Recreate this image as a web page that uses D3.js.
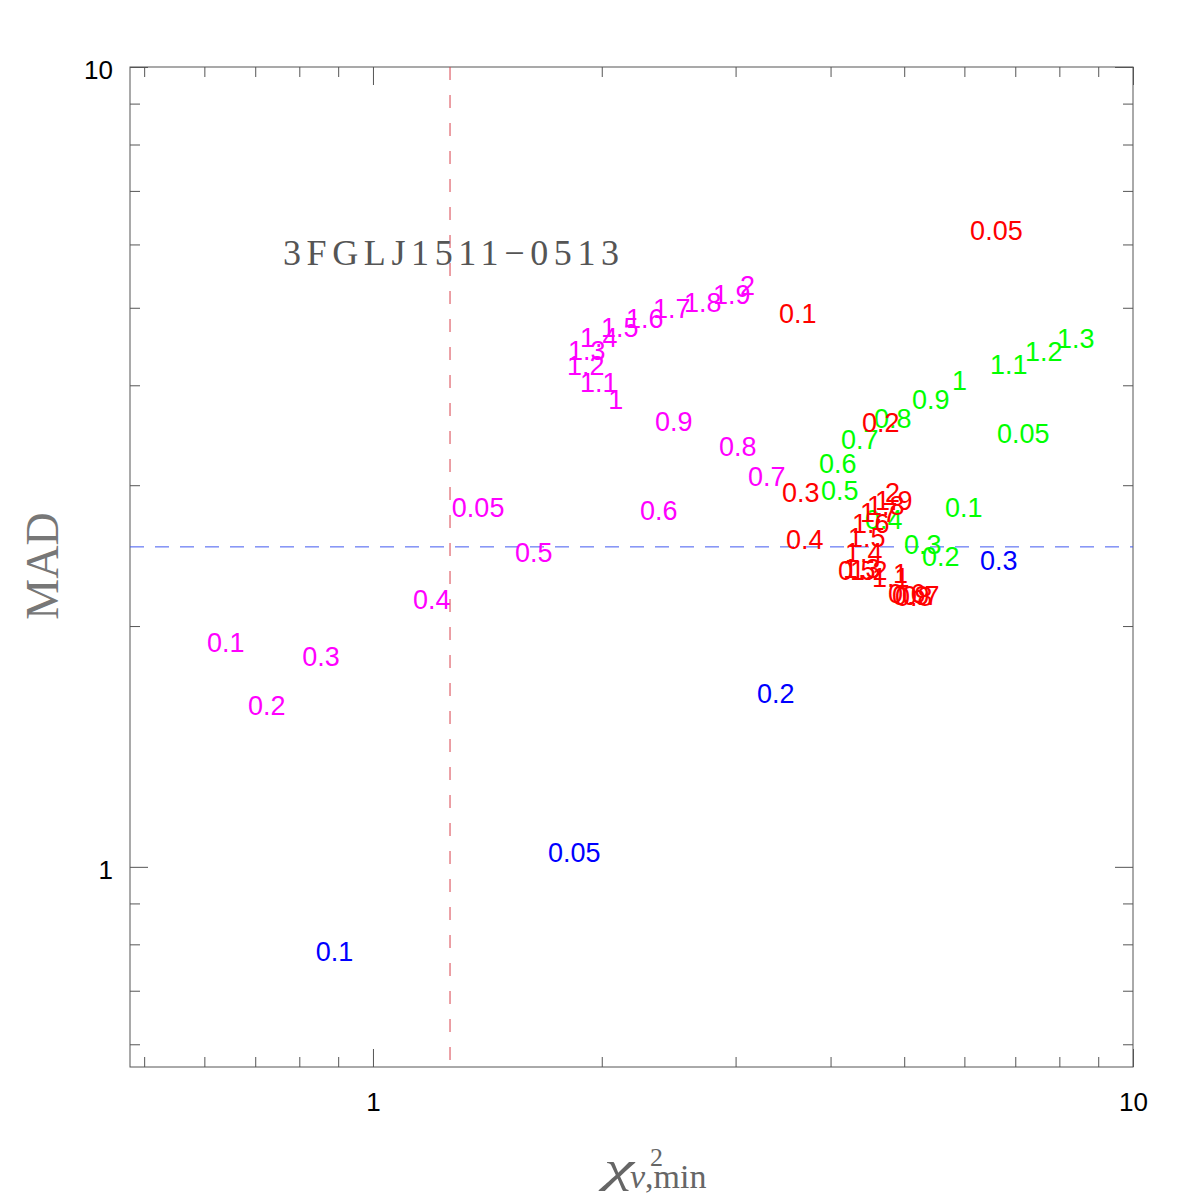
<!DOCTYPE html>
<html>
<head>
<meta charset="utf-8">
<script src="https://cdn.jsdelivr.net/npm/d3@7"></script>
<style>
  body { margin: 0; background: #fff; }
  .lbl { font-family: "Liberation Sans", Arial, sans-serif; font-size: 27px; }
</style>
</head>
<body>
<div id="chart-area"></div>
<script>
/*
*    chi2 vs MAD scan
*/

// magenta series
var magentaLabels = ["0.05","0.1","0.2","0.3","0.4","0.5","0.6","0.7","0.8","0.9","1","1.1","1.2","1.3","1.4","1.5","1.6","1.7","1.8","1.9","2"];
var magentaChi = [1.270,0.605,0.685,0.807,1.129,1.538,2.245,3.114,2.853,2.350,2.039,1.873,1.800,1.806,1.873,1.995,2.152,2.336,2.566,2.802,3.040];
var magentaMad = [2.738,1.857,1.549,1.784,2.101,2.406,2.715,2.994,3.265,3.508,3.737,3.925,4.121,4.303,4.467,4.597,4.718,4.856,4.941,5.056,5.188];

// red series
var redLabels = ["0.05","0.1","0.2","0.3","0.4","0.5","0.6","0.7","0.8","0.9","1","1.1","1.2","1.3","1.4","1.5","1.6","1.7","1.8","1.9","2"];
var redChi = [6.105,3.421,4.400,3.452,3.494,4.091,4.760,4.968,4.863,4.819,4.834,4.535,4.243,4.154,4.180,4.217,4.268,4.373,4.467,4.577,4.717];
var redMad = [6.077,4.786,3.498,2.859,2.498,2.285,2.138,2.126,2.120,2.126,2.265,2.239,2.285,2.298,2.406,2.512,2.615,2.699,2.754,2.794,2.859];

// green series
var greenLabels = ["0.05","0.1","0.2","0.3","0.4","0.5","0.6","0.7","0.8","0.9","1","1.1","1.2","1.3"];
var greenChi = [6.623,5.656,5.277,4.997,4.440,3.886,3.862,4.128,4.562,5.120,5.778,6.483,7.210,7.943];
var greenMad = [3.388,2.738,2.378,2.462,2.646,2.876,3.108,3.331,3.538,3.737,3.948,4.133,4.290,4.455];

// blue series
var blueLabels = ["0.05","0.1","0.2","0.3"];
var blueChi = [1.699,0.841,3.201,6.290];
var blueMad = [1.015,0.763,1.603,2.350];

var xMajor = [1, 10];
var xMinor = [0.5,0.6,0.7,0.8,0.9,2,3,4,5,6,7,8,9];
var yMajor = [1, 10];
var yMinor = [0.6,0.7,0.8,0.9,2,3,4,5,6,7,8,9];

var chiCut = 1.263;
var madCut = 2.512;

var margin = {top: 67, right: 63, bottom: 129, left: 130};
var width = 1003;
var height = 1000;

var svg = d3.select("#chart-area")
    .append("svg")
    .attr("width", width + margin.left + margin.right)
    .attr("height", height + margin.top + margin.bottom);

var g = svg.append("g")
    .attr("transform", "translate(" + margin.left + ", " + margin.top + ")");

var x = d3.scaleLog().domain([0.479, 10]).range([0, width]);
var y = d3.scaleLog().domain([0.562, 10]).range([height, 0]);

// frame
g.append("rect")
    .attr("width", width).attr("height", height)
    .attr("fill", "none").attr("stroke", "#555").attr("stroke-width", 1);

function styleAxis(sel) {
    sel.select(".domain").remove();
    sel.selectAll("line").attr("stroke", "#555");
    sel.selectAll("text")
        .attr("fill", "#000")
        .attr("font-family", "'Liberation Sans', Arial, sans-serif")
        .attr("font-size", "26px");
}

// bottom
g.append("g").attr("transform", "translate(0," + height + ")")
    .call(d3.axisBottom(x).tickValues(xMajor).tickSize(-18).tickPadding(26).tickFormat(d3.format("d")))
    .call(styleAxis);
g.append("g").attr("transform", "translate(0," + height + ")")
    .call(d3.axisBottom(x).tickValues(xMinor).tickSize(-10).tickFormat(""))
    .call(styleAxis);
// top
g.append("g")
    .call(d3.axisTop(x).tickValues(xMajor).tickSize(-18).tickFormat(""))
    .call(styleAxis);
g.append("g")
    .call(d3.axisTop(x).tickValues(xMinor).tickSize(-10).tickFormat(""))
    .call(styleAxis);
// left
g.append("g")
    .call(d3.axisLeft(y).tickValues(yMajor).tickSize(-18).tickPadding(17).tickFormat(d3.format("d")))
    .call(styleAxis)
    .selectAll("text").attr("dy", "0.45em");
g.append("g")
    .call(d3.axisLeft(y).tickValues(yMinor).tickSize(-10).tickFormat(""))
    .call(styleAxis);
// right
g.append("g").attr("transform", "translate(" + width + ",0)")
    .call(d3.axisRight(y).tickValues(yMajor).tickSize(-18).tickFormat(""))
    .call(styleAxis);
g.append("g").attr("transform", "translate(" + width + ",0)")
    .call(d3.axisRight(y).tickValues(yMinor).tickSize(-10).tickFormat(""))
    .call(styleAxis);

// cut lines
g.append("line")
    .attr("x1", x(chiCut)).attr("x2", x(chiCut))
    .attr("y1", 0).attr("y2", height)
    .attr("stroke", "#d8404c").attr("stroke-width", 1)
    .attr("stroke-dasharray", "13,15");
g.append("line")
    .attr("x1", 0).attr("x2", width)
    .attr("y1", y(madCut)).attr("y2", y(madCut))
    .attr("stroke", "#4058f0").attr("stroke-width", 1)
    .attr("stroke-dasharray", "14,11");

// title
g.append("text")
    .attr("x", 153).attr("y", 198)
    .attr("font-family", "'Liberation Serif', 'Times New Roman', serif")
    .attr("font-size", "36px")
    .attr("fill", "#555")
    .attr("textLength", 336)
    .attr("lengthAdjust", "spacing")
    .text("3FGLJ1511\u22120513");

// labelled points
function drawSeries(labels, xs, ys, color) {
    var data = labels.map((l, i) => { return {label: l, chi: xs[i], mad: ys[i]}; });
    g.append("g").selectAll("text").data(data).enter()
        .append("text")
            .attr("class", "lbl")
            .attr("x", (d) => { return x(d.chi); })
            .attr("y", (d) => { return y(d.mad); })
            .attr("fill", color)
            .text((d) => { return d.label; });
}

drawSeries(magentaLabels, magentaChi, magentaMad, "#ff00ff");
drawSeries(greenLabels, greenChi, greenMad, "#00ff00");
drawSeries(redLabels, redChi, redMad, "#ff0000");
drawSeries(blueLabels, blueChi, blueMad, "#0000ff");

// x axis label
svg.append("text")
    .attr("transform", "translate(604, 1182) scale(1.55, 1)")
    .attr("font-family", "'Liberation Serif', 'Times New Roman', serif")
    .attr("font-size", "44px")
    .attr("font-style", "italic")
    .attr("fill", "#666")
    .text("\u03c7");
var xl = svg.append("text")
    .attr("font-family", "'Liberation Serif', 'Times New Roman', serif")
    .attr("fill", "#666");
xl.append("tspan").attr("x", 650).attr("y", 1166)
    .attr("font-size", "26px").text("2");
xl.append("tspan").attr("x", 630).attr("y", 1188)
    .attr("font-size", "34px").attr("font-style", "italic").text("\u03bd");
xl.append("tspan")
    .attr("font-size", "34px").text(",min");

// y axis label
svg.append("text")
    .attr("transform", "translate(58, 566) rotate(-90)")
    .attr("text-anchor", "middle")
    .attr("font-family", "'Liberation Serif', 'Times New Roman', serif")
    .attr("font-size", "46px")
    .attr("fill", "#777")
    .text("MAD");
</script>
</body>
</html>
